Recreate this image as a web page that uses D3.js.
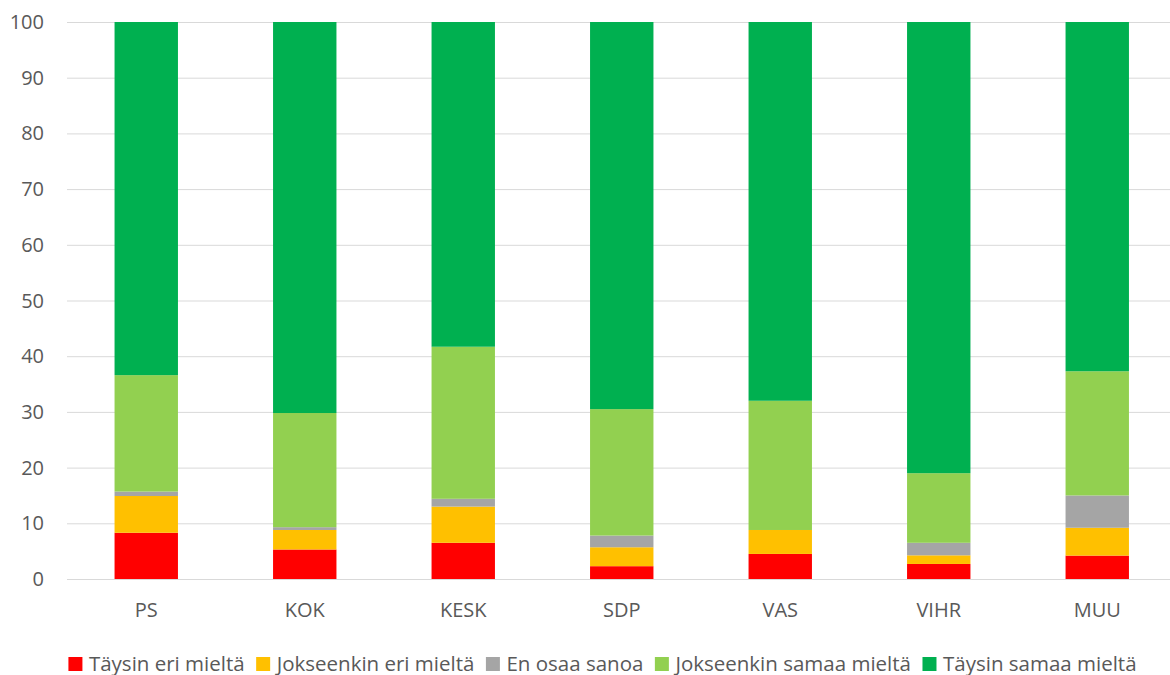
<!DOCTYPE html>
<html>
<head>
<meta charset="utf-8">
<script src="https://cdn.jsdelivr.net/npm/d3@7"></script>
<style>
  body { margin: 0; background: #fff; }
  text { font-family: "Open Sans", "Liberation Sans", sans-serif; fill: #595959; }
</style>
</head>
<body>
<div id="chart"></div>
<script>
// data (percent)
const parties = ["PS", "KOK", "KESK", "SDP", "VAS", "VIHR", "MUU"];
const series = ["Täysin eri mieltä", "Jokseenkin eri mieltä", "En osaa sanoa", "Jokseenkin samaa mieltä", "Täysin samaa mieltä"];
const colors = ["#ff0000", "#ffc000", "#a5a5a5", "#92d050", "#00b050"];

const taysinEri   = [8.3, 5.3, 6.5, 2.3, 4.5, 2.7, 4.2];
const jokseenEri  = [6.6, 3.5, 6.5, 3.4, 4.3, 1.55, 5.0];
const eiOsaa      = [0.8, 0.5, 1.4, 2.1, 0.0, 2.25, 5.8];
const jokseenSama = [20.9, 20.5, 27.3, 22.7, 23.2, 12.5, 22.3];
const taysinSama  = [63.4, 70.2, 58.3, 69.5, 68.0, 81.0, 62.7];

const yTicks = [0, 10, 20, 30, 40, 50, 60, 70, 80, 90, 100];

const width = 1170, height = 675;
const margin = { top: 22, right: 0, bottom: 96, left: 67 };

const rows = parties.map((p, i) => ({
  party: p,
  0: taysinEri[i], 1: jokseenEri[i], 2: eiOsaa[i], 3: jokseenSama[i], 4: taysinSama[i]
}));

const stack = d3.stack().keys([0, 1, 2, 3, 4]);
const stacked = stack(rows);

const svg = d3.select("#chart").append("svg")
  .attr("width", width)
  .attr("height", height);

const x = d3.scaleBand()
  .domain(parties)
  .range([margin.left, margin.left + 158.5 * parties.length])
  .paddingInner(0.6)
  .paddingOuter(0.3);

const y = d3.scaleLinear()
  .domain([0, 100])
  .range([579, 22]);

// gridlines
svg.append("g")
  .selectAll("line")
  .data(yTicks)
  .join("line")
  .attr("x1", margin.left)
  .attr("x2", width)
  .attr("y1", d => y(d) + 0.5)
  .attr("y2", d => y(d) + 0.5)
  .attr("stroke", "#d9d9d9")
  .attr("stroke-width", 1);

// y labels
svg.append("g")
  .selectAll("text")
  .data(yTicks)
  .join("text")
  .attr("x", 44)
  .attr("y", d => y(d))
  .attr("dy", "0.35em")
  .attr("text-anchor", "end")
  .style("font-size", "20px")
  .text(d => d);

// bars
svg.append("g")
  .selectAll("g")
  .data(stacked)
  .join("g")
  .attr("fill", d => colors[d.key])
  .selectAll("rect")
  .data(d => d)
  .join("rect")
  .attr("x", d => x(d.data.party))
  .attr("width", x.bandwidth())
  .attr("y", d => y(d[1]))
  .attr("height", d => y(d[0]) - y(d[1]));

// x labels
svg.append("g")
  .selectAll("text")
  .data(parties)
  .join("text")
  .attr("x", d => x(d) + x.bandwidth() / 2)
  .attr("y", 610)
  .attr("dy", "0.35em")
  .attr("text-anchor", "middle")
  .style("font-size", "20px")
  .text(d => d);

// legend
const legend = svg.append("g");
const items = legend.selectAll("g")
  .data(series)
  .join("g");

items.append("rect")
  .attr("width", 14)
  .attr("height", 14)
  .attr("y", -7)
  .attr("fill", (d, i) => colors[i]);

items.append("text")
  .attr("x", 20.5)
  .attr("dy", "0.35em")
  .style("font-size", "20.5px")
  .text(d => d);

let offset = 0;
items.each(function () {
  d3.select(this).attr("transform", `translate(${offset},0)`);
  offset += this.getBBox().width + 11.5;
});
const legendWidth = offset - 11.5;
legend.attr("transform", `translate(${(63 + 1142) / 2 - legendWidth / 2},664)`);
</script>
</body>
</html>
